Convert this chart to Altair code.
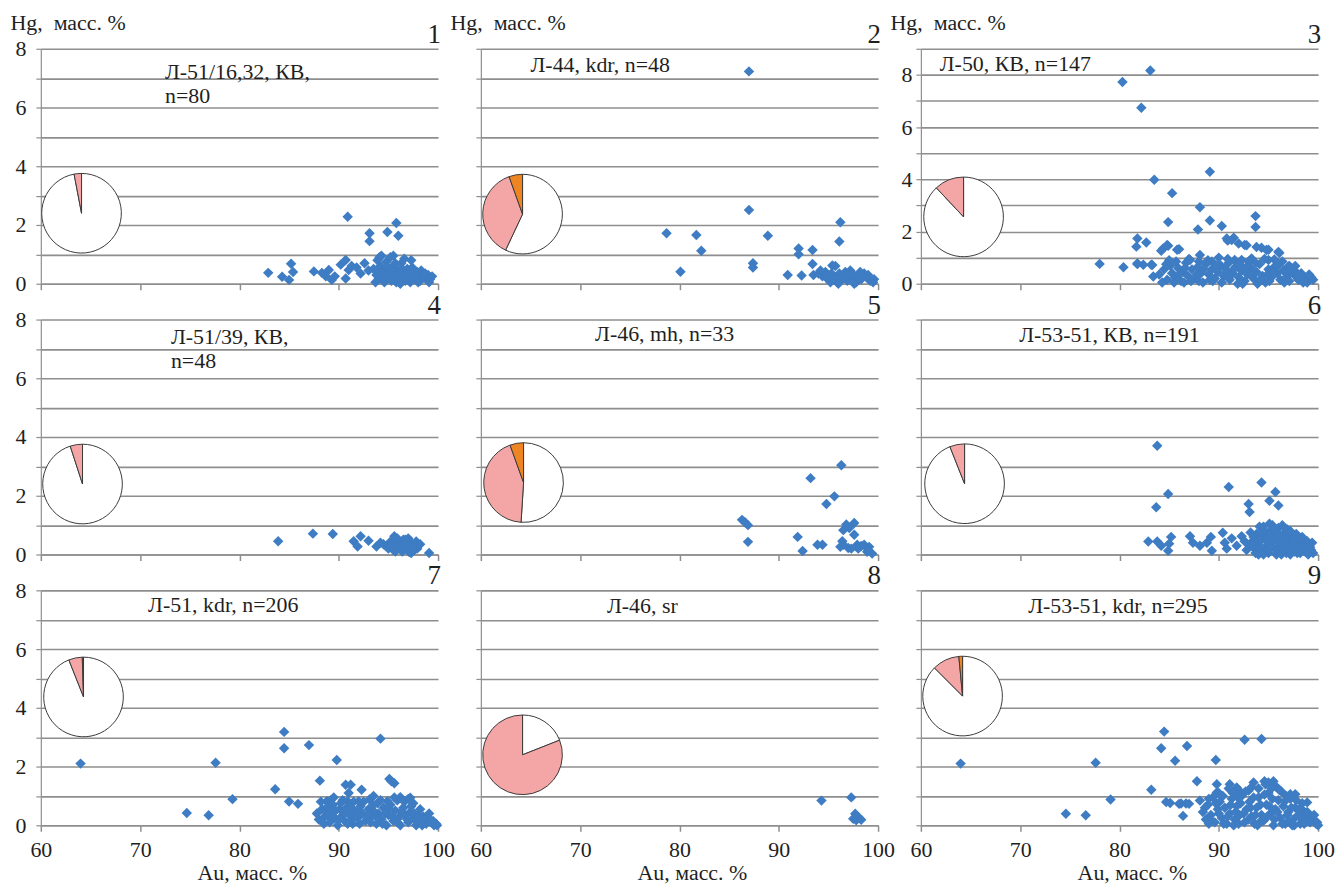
import altair as alt
import pandas as pd

BLUE = "#3E7CC3"
FONT = "Liberation Serif"
INK = "#1f1f1f"
GRID = "#8e8e8e"
PINK = "#F4A6A6"
ORANGE = "#EE8523"

PANEL_NUMBERS = ["1", "2", "3", "4", "5", "6", "7", "8", "9"]
SAMPLE_LABELS = [
    ["Л-51/16,32, КВ,", "n=80"],
    ["Л-44, kdr, n=48"],
    ["Л-50, КВ, n=147"],
    ["Л-51/39, КВ,", "n=48"],
    ["Л-46, mh, n=33"],
    ["Л-53-51, КВ, n=191"],
    ["Л-51, kdr, n=206"],
    ["Л-46, sr"],
    ["Л-53-51, kdr, n=295"],
]

# pie shares (%): white, pink, orange
PIE_WHITE = [97, 57, 88, 95, 51, 94, 94, 19, 87.5]
PIE_PINK = [3, 37.5, 12, 5, 43.5, 6, 5.5, 81, 11]
PIE_ORANGE = [0, 5.5, 0, 0, 5.5, 0, 0.5, 0, 1.5]

# (Au, Hg) points per panel
P1 = [(82.9, 0.37), (84.3, 0.24), (85.2, 0.68), (85.0, 0.13), (85.4, 0.40), (87.5, 0.42), (88.3, 0.37),
      (89.0, 0.47), (89.3, 0.13), (89.6, 0.25), (90.7, 0.81), (90.9, 2.28), (91.0, 0.47), (91.3, 0.60),
      (90.7, 0.18), (92.6, 0.70), (93.1, 1.72), (93.1, 1.45), (93.0, 0.45), (94.1, 0.90), (94.9, 1.76),
      (95.8, 2.07), (96.0, 1.63), (95.5, 0.95), (96.6, 0.85), (97.3, 0.80), (98.8, 0.24), (98.1, 0.24),
      (93.5, 0.50), (93.8, 0.30), (94.0, 0.15), (94.2, 0.60), (94.5, 0.40), (94.6, 0.05), (94.8, 0.75),
      (95.0, 0.30), (95.1, 0.50), (95.3, 0.10), (95.5, 0.60), (95.6, 0.35), (95.8, 0.05), (96.0, 0.45),
      (96.1, 0.20), (96.3, 0.70), (96.5, 0.30), (96.7, 0.10), (96.9, 0.50), (97.0, 0.25), (97.2, 0.05),
      (97.5, 0.35), (97.7, 0.15), (97.9, 0.40), (98.2, 0.10), (98.4, 0.30), (98.6, 0.20), (99.0, 0.30),
      (99.2, 0.15), (94.3, 0.95), (95.2, 0.90), (93.9, 0.80), (91.8, 0.55), (92.2, 0.35), (88.7, 0.25),
      (90.2, 0.65), (93.7, 0.05), (94.1, 0.45), (94.4, 0.20), (94.9, 0.55), (95.2, 0.15), (95.4, 0.40),
      (95.7, 0.70), (95.9, 0.25), (96.2, 0.00), (96.4, 0.50), (96.8, 0.40), (97.1, 0.15), (97.4, 0.55),
      (97.8, 0.25), (98.0, 0.05), (98.3, 0.45), (98.7, 0.35), (99.1, 0.05), (99.4, 0.25)]
P2 = [(87.0, 7.23), (87.0, 2.51), (78.7, 1.72), (81.7, 1.66), (82.2, 1.12), (80.1, 0.41), (87.4, 0.70),
      (87.4, 0.55), (88.9, 1.63), (90.9, 0.30), (92.0, 1.20), (92.0, 1.00), (93.4, 1.15), (93.4, 0.67),
      (92.3, 0.28), (96.2, 2.09), (96.1, 1.44), (95.4, 0.62), (95.7, 0.60), (93.5, 0.30), (94.0, 0.35),
      (94.4, 0.25), (94.7, 0.40), (95.0, 0.15), (95.3, 0.35), (95.6, 0.25), (95.9, 0.05), (96.1, 0.35),
      (96.4, 0.15), (96.7, 0.40), (97.0, 0.30), (97.2, 0.45), (97.5, 0.20), (97.8, 0.05), (98.0, 0.30),
      (98.3, 0.15), (98.6, 0.35), (98.9, 0.20), (99.2, 0.10), (99.5, 0.05), (96.0, 0.00), (97.6, 0.00),
      (99.0, 0.30), (94.2, 0.45), (96.9, 0.10), (95.2, 0.05), (96.5, 0.30), (97.4, 0.35), (98.2, 0.40),
      (99.6, 0.15), (94.8, 0.20)]
P3 = [(80.3, 7.73), (83.1, 8.17), (82.2, 6.74), (83.5, 3.98), (85.3, 3.47), (89.1, 4.29), (88.1, 2.93),
      (89.1, 2.42), (87.9, 2.08), (84.9, 2.36), (90.3, 2.21), (93.7, 2.59), (93.7, 2.17), (78.0, 0.76),
      (80.4, 0.63), (81.8, 1.73), (81.7, 1.42), (82.7, 1.58), (81.8, 0.75), (82.4, 0.73), (83.2, 0.73),
      (84.2, 1.26), (84.9, 1.45), (85.8, 1.30), (90.9, 1.65), (91.5, 1.76), (92.8, 1.47), (94.3, 1.38),
      (95.0, 1.30), (96.1, 1.18), (95.6, 0.93), (97.1, 0.68), (90.8, 1.73), (91.3, 1.67), (92.0, 1.54),
      (92.6, 1.48), (93.8, 1.41), (94.8, 1.29), (96.0, 1.22), (84.4, 1.35), (84.8, 1.48), (86.0, 1.32),
      (87.1, 0.91), (88.1, 1.10), (89.3, 0.85), (91.6, 0.91), (92.3, 0.91), (93.3, 0.97), (95.0, 0.91),
      (97.0, 0.66), (97.7, 0.68), (97.0, 0.34), (99.0, 0.28), (99.5, 0.15), (81.8, 0.78), (83.3, 0.72),
      (83.4, 0.28), (84.0, 0.35), (84.5, 0.55), (84.8, 0.15), (85.1, 0.70), (85.3, 0.40), (85.6, 0.25),
      (85.9, 0.60), (86.2, 0.10), (86.4, 0.45), (86.7, 0.80), (86.9, 0.30), (87.3, 0.55), (87.6, 0.20),
      (87.9, 0.65), (88.2, 0.40), (88.4, 0.05), (88.7, 0.75), (89.0, 0.35), (89.3, 0.55), (89.6, 0.20),
      (89.9, 0.45), (90.2, 0.70), (90.5, 0.30), (90.8, 0.50), (91.1, 0.15), (91.4, 0.40), (91.7, 0.65),
      (92.0, 0.25), (92.3, 0.50), (92.6, 0.10), (92.9, 0.35), (93.2, 0.60), (93.5, 0.20), (93.8, 0.45),
      (94.1, 0.75), (94.4, 0.30), (94.7, 0.05), (95.0, 0.55), (95.3, 0.25), (95.6, 0.65), (95.9, 0.40),
      (96.2, 0.15), (96.5, 0.50), (96.8, 0.25), (97.1, 0.10), (97.4, 0.45), (97.7, 0.30), (98.0, 0.15),
      (98.3, 0.40), (98.6, 0.20), (98.9, 0.05), (99.3, 0.25), (85.0, 0.90), (87.0, 0.95), (88.9, 0.90),
      (90.0, 1.00), (93.0, 0.85), (94.6, 0.95), (96.4, 0.85), (86.5, 0.05), (89.4, 0.10), (91.9, 0.00),
      (95.1, 0.10), (93.9, 0.00), (91.0, 0.80), (84.3, 0.05), (84.7, 0.75), (85.5, 0.05), (85.7, 0.85),
      (86.0, 0.35), (86.6, 0.60), (87.2, 0.10), (87.8, 0.35), (88.0, 0.85), (88.5, 0.55), (89.1, 0.15),
      (89.8, 0.70), (90.3, 0.05), (90.6, 0.60), (91.0, 0.30), (91.5, 0.55), (92.1, 0.75), (92.4, 0.00),
      (92.8, 0.65), (93.3, 0.35), (93.7, 0.80), (94.2, 0.15), (94.9, 0.35), (95.5, 0.45), (96.0, 0.70),
      (96.6, 0.05), (97.3, 0.60), (97.9, 0.40), (98.5, 0.05), (99.1, 0.35), (88.0, 0.10), (90.9, 0.95)]
P4 = [(83.9, 0.45), (87.4, 0.71), (89.4, 0.70), (91.5, 0.45), (92.2, 0.62), (91.9, 0.27), (93.0, 0.47),
      (93.8, 0.27), (94.8, 0.30), (95.3, 0.47), (95.6, 0.62), (96.1, 0.40), (96.5, 0.50), (96.8, 0.25),
      (97.1, 0.08), (97.4, 0.37), (97.8, 0.44), (97.9, 0.20), (99.1, 0.05), (94.5, 0.35), (95.0, 0.20),
      (95.5, 0.15), (95.8, 0.30), (96.2, 0.20), (96.9, 0.45), (97.2, 0.30), (97.6, 0.15), (98.0, 0.30),
      (96.4, 0.10), (94.2, 0.40), (95.9, 0.55), (97.0, 0.55), (98.2, 0.35), (96.6, 0.35), (95.2, 0.38),
      (95.7, 0.10), (96.0, 0.25), (97.3, 0.05), (96.7, 0.50), (95.4, 0.30)]
P5 = [(96.3, 3.04), (93.2, 2.60), (95.6, 1.98), (94.8, 1.72), (86.3, 1.18), (86.6, 1.10), (86.9, 1.00),
      (86.9, 0.43), (91.9, 0.60), (92.4, 0.12), (93.9, 0.33), (94.4, 0.33), (97.6, 1.07), (96.8, 1.02),
      (96.5, 0.83), (97.6, 0.67), (96.2, 0.26), (96.5, 0.33), (97.0, 0.22), (97.9, 0.33), (98.3, 0.29),
      (98.6, 0.33), (99.1, 0.26), (98.9, 0.09), (99.4, 0.03), (98.0, 0.20), (97.3, 0.20), (96.4, 0.45),
      (97.1, 0.90), (99.0, 0.15)]
P6 = [(83.8, 3.70), (84.9, 2.06), (83.7, 1.61), (91.0, 2.30), (94.3, 2.45), (95.7, 2.13), (95.1, 1.83),
      (96.0, 1.67), (93.0, 1.72), (93.1, 1.45), (82.9, 0.44), (83.8, 0.44), (84.2, 0.30), (84.9, 0.13),
      (85.2, 0.60), (85.0, 0.37), (87.1, 0.62), (87.4, 0.40), (88.1, 0.30), (88.8, 0.40), (89.2, 0.60),
      (89.3, 0.13), (90.4, 0.74), (90.6, 0.40), (90.8, 0.20), (91.3, 0.55), (91.8, 0.30), (92.3, 0.62),
      (93.4, 0.45), (93.6, 0.20), (93.8, 0.70), (94.0, 0.35), (94.1, 0.95), (94.3, 0.10), (94.4, 0.55),
      (94.6, 0.80), (94.7, 0.25), (94.9, 0.60), (95.0, 0.05), (95.2, 0.40), (95.3, 0.85), (95.4, 1.00),
      (95.6, 0.20), (95.7, 0.65), (95.9, 0.45), (96.0, 0.90), (96.1, 0.10), (96.3, 0.55), (96.4, 1.00),
      (96.5, 0.30), (96.7, 0.75), (96.8, 0.05), (97.0, 0.45), (97.1, 0.20), (97.3, 0.65), (97.4, 0.35),
      (97.6, 0.10), (97.7, 0.50), (97.9, 0.25), (98.0, 0.60), (98.2, 0.05), (98.3, 0.40), (98.5, 0.20),
      (98.6, 0.50), (98.8, 0.30), (99.0, 0.10), (99.1, 0.35), (99.3, 0.15), (99.5, 0.05), (93.1, 0.30),
      (92.8, 0.15), (94.5, 0.00), (95.8, 0.00), (97.2, 0.00), (93.2, 0.75), (96.9, 0.85), (95.1, 0.70),
      (92.6, 0.45), (93.5, 0.60), (93.7, 0.05), (93.9, 0.50), (94.2, 0.75), (94.2, 0.20), (94.5, 0.95),
      (94.8, 0.45), (94.9, 0.15), (95.1, 1.05), (95.5, 0.50), (95.6, 0.85), (95.9, 0.20), (96.1, 0.70),
      (96.2, 0.35), (96.6, 0.90), (96.6, 0.15), (96.9, 0.60), (97.2, 0.80), (97.5, 0.50), (97.8, 0.70),
      (98.1, 0.30), (98.4, 0.60), (98.7, 0.10), (98.9, 0.45), (99.2, 0.25), (99.4, 0.40), (97.9, 0.05),
      (96.3, 0.00), (94.0, 0.00), (99.0, 0.00)]
P7 = [(64.0, 2.10), (74.7, 0.42), (76.9, 0.34), (77.6, 2.13), (79.3, 0.89), (83.6, 1.23), (84.5, 3.18),
      (84.5, 2.62), (85.0, 0.81), (85.9, 0.73), (87.0, 2.73), (88.1, 1.52), (89.8, 2.22), (94.2, 2.95),
      (95.1, 1.58), (95.6, 1.43), (90.7, 1.38), (91.2, 1.38), (92.3, 1.21), (93.1, 0.88), (90.9, 0.82),
      (92.0, 0.82), (88.8, 0.82), (94.9, 0.82), (96.2, 0.96), (97.2, 0.94), (95.3, 1.50), (93.5, 1.00),
      (91.0, 1.10), (89.5, 0.95), (87.8, 0.40), (88.0, 0.20), (88.3, 0.55), (88.6, 0.30), (88.9, 0.65),
      (89.1, 0.10), (89.3, 0.45), (89.6, 0.25), (89.9, 0.00), (90.1, 0.55), (90.3, 0.30), (90.6, 0.15),
      (90.8, 0.60), (91.1, 0.35), (91.4, 0.05), (91.6, 0.50), (91.9, 0.25), (92.2, 0.65), (92.4, 0.40),
      (92.7, 0.15), (93.0, 0.55), (93.3, 0.30), (93.5, 0.70), (93.8, 0.05), (94.0, 0.40), (94.3, 0.20),
      (94.5, 0.60), (94.8, 0.00), (95.0, 0.35), (95.2, 0.70), (95.5, 0.15), (95.7, 0.50), (96.0, 0.25),
      (96.2, 0.00), (96.5, 0.60), (96.7, 0.35), (97.0, 0.10), (97.2, 0.45), (97.5, 0.25), (97.8, 0.00),
      (98.0, 0.35), (98.3, 0.15), (98.5, 0.30), (98.8, 0.05), (99.0, 0.20), (99.3, 0.10), (99.6, 0.00),
      (99.8, 0.05), (89.2, 0.85), (91.5, 0.80), (95.9, 0.85), (97.5, 0.75), (93.9, 0.75), (98.9, 0.30),
      (90.4, 0.85), (88.2, 0.80), (88.5, 0.05), (88.8, 0.45), (89.0, 0.30), (89.4, 0.70), (89.7, 0.50),
      (90.0, 0.20), (90.2, 0.75), (90.5, 0.45), (90.9, 0.05), (91.2, 0.60), (91.3, 0.20), (91.7, 0.35),
      (92.0, 0.50), (92.1, 0.05), (92.5, 0.80), (92.9, 0.30), (93.2, 0.10), (93.6, 0.45), (93.9, 0.25),
      (94.2, 0.85), (94.4, 0.05), (94.7, 0.40), (95.1, 0.55), (95.4, 0.30), (95.6, 0.95), (95.9, 0.10),
      (96.3, 0.45), (96.6, 0.80), (96.9, 0.20), (97.3, 0.65), (97.6, 0.40), (97.9, 0.15), (98.2, 0.55),
      (98.6, 0.20), (99.1, 0.40), (99.5, 0.15), (99.9, 0.00), (97.0, 0.90), (98.4, 0.00)]
P8 = [(94.3, 0.84), (97.3, 0.95), (97.7, 0.39), (97.5, 0.22), (98.0, 0.28), (98.3, 0.19), (97.8, 0.17)]
P9 = [(64.0, 2.10), (74.6, 0.39), (76.6, 0.34), (77.6, 2.13), (79.1, 0.88), (83.2, 1.21), (84.5, 3.19),
      (84.2, 2.62), (84.7, 0.79), (85.6, 2.20), (86.8, 2.70), (86.2, 0.74), (86.7, 0.74), (86.4, 0.32),
      (87.8, 1.50), (89.7, 2.22), (92.6, 2.91), (94.3, 2.94), (94.6, 1.50), (95.5, 1.50), (85.1, 0.76),
      (86.0, 0.73), (87.0, 0.73), (89.8, 1.40), (91.1, 1.40), (91.8, 1.29), (93.5, 1.46), (95.0, 1.46),
      (95.7, 1.34), (93.0, 1.18), (88.1, 0.84), (89.8, 1.12), (97.2, 1.06), (97.7, 1.06), (98.9, 0.78),
      (88.4, 0.45), (88.7, 0.20), (88.9, 0.70), (89.2, 0.35), (89.4, 0.95), (89.6, 0.10), (89.9, 0.55),
      (90.1, 0.80), (90.3, 0.25), (90.6, 0.60), (90.8, 0.05), (91.1, 0.40), (91.3, 0.90), (91.6, 0.20),
      (91.8, 0.65), (92.1, 0.35), (92.3, 1.00), (92.6, 0.10), (92.8, 0.55), (93.1, 0.80), (93.3, 0.30),
      (93.6, 0.05), (93.8, 0.60), (94.0, 0.95), (94.3, 0.35), (94.5, 0.15), (94.8, 0.70), (95.0, 1.10),
      (95.2, 0.40), (95.5, 0.00), (95.7, 0.55), (96.0, 0.85), (96.2, 0.25), (96.5, 0.65), (96.7, 0.05),
      (97.0, 0.45), (97.2, 0.90), (97.5, 0.20), (97.7, 0.60), (98.0, 0.35), (98.2, 0.05), (98.5, 0.50),
      (98.7, 0.25), (99.0, 0.40), (99.2, 0.10), (99.5, 0.20), (99.8, 0.05), (100.0, 0.00), (90.0, 1.10),
      (92.0, 1.20), (94.0, 1.25), (96.3, 1.15), (98.4, 0.75), (89.0, 0.05), (91.5, 0.00), (93.9, 0.00),
      (97.4, 0.00), (95.8, 1.30), (91.0, 1.25), (94.7, 1.40), (96.8, 1.00), (99.4, 0.30), (88.6, 0.60),
      (89.0, 0.90), (89.3, 0.15), (89.7, 0.75), (90.0, 0.40), (90.4, 1.00), (90.5, 0.05), (90.9, 0.30),
      (91.2, 0.70), (91.4, 1.10), (91.7, 0.45), (92.0, 0.05), (92.2, 0.75), (92.5, 0.40), (92.7, 1.15),
      (93.0, 0.20), (93.2, 0.60), (93.5, 0.95), (93.7, 0.35), (94.1, 0.10), (94.2, 0.70), (94.6, 1.05),
      (94.9, 0.30), (95.1, 0.65), (95.4, 0.90), (95.6, 0.20), (95.9, 0.45), (96.1, 1.20), (96.4, 0.05),
      (96.6, 0.80), (96.9, 0.35), (97.3, 0.60), (97.6, 0.00), (97.8, 0.85), (98.1, 0.55), (98.4, 0.20),
      (98.6, 0.05), (98.9, 0.45), (99.3, 0.15), (99.6, 0.35), (99.9, 0.10), (95.3, 1.25), (93.3, 1.30),
      (97.0, 0.15), (91.9, 0.95)]
POINTS = [P1, P2, P3, P4, P5, P6, P7, P8, P9]

# layout (placement of the insets and labels, in data units)
Y_MAX = [8, 8, 9, 8, 8, 8, 8, 8, 8]
PIE_CENTER = [(64.1, 2.40), (64.2, 2.37), (64.3, 2.56), (64.2, 2.40), (64.3, 2.45),
              (64.4, 2.41), (64.3, 4.37), (64.2, 2.40), (64.2, 4.40)]
LABEL_POS = [
    [(72.5, 6.98), (72.5, 6.14)],
    [(65.0, 7.20)],
    [(61.9, 8.14)],
    [(73.1, 7.18), (73.1, 6.36)],
    [(71.5, 7.27)],
    [(69.9, 7.22)],
    [(70.8, 7.26)],
    [(72.7, 7.23)],
    [(70.8, 7.23)],
]

W, H = 399, 236
FS = 22


def panel(idx):
    row, col = divmod(idx, 3)
    ymax = Y_MAX[idx]
    xs = alt.Scale(domain=[60, 100], nice=False, zero=False)
    ys = alt.Scale(domain=[0, ymax], nice=False, zero=True)

    xkw = dict(values=[60, 70, 80, 90, 100], grid=False, ticks=True, tickSize=6,
               labels=(row == 2), labelPadding=8, domainColor=GRID, tickColor=GRID,
               domainWidth=1.5, tickWidth=1.5, labelFlush=False)
    if row == 2:
        xaxis = alt.Axis(titleX=212, titleY=54, titleAlign="center",
                         titleBaseline="alphabetic", **xkw)
        xtitle = "Au, масс. %"
    else:
        xaxis = alt.Axis(**xkw)
        xtitle = None

    show_y = (col == 0) or (idx == 2)
    ykw = dict(values=list(range(ymax + 1)), grid=True, gridColor=GRID, gridWidth=1.6,
               tickSize=5, tickColor=GRID, tickWidth=1.2, domainColor=GRID, domainWidth=1.2,
               labels=show_y, labelExpr="datum.value % 2 === 0 ? datum.label : ''",
               labelPadding=(10 if col == 0 else 4))
    if row == 0:
        yaxis = alt.Axis(titleAngle=0, titleAlign="left", titleBaseline="alphabetic",
                         titleX=-31, titleY=-19, **ykw)
        ytitle = "Hg,\u00a0\u00a0масс. %"
    else:
        yaxis = alt.Axis(**ykw)
        ytitle = None

    X = alt.X("au:Q", scale=xs, axis=xaxis, title=xtitle)
    Y = alt.Y("hg:Q", scale=ys, axis=yaxis, title=ytitle)

    pts_df = pd.DataFrame(POINTS[idx], columns=["au", "hg"])
    points = alt.Chart(pts_df).mark_point(
        shape="diamond", filled=True, size=110, color=BLUE, opacity=1, strokeWidth=0
    ).encode(x=X, y=Y)

    cx, cy = PIE_CENTER[idx]
    shares = [PIE_WHITE[idx], PIE_PINK[idx], PIE_ORANGE[idx]]
    fills = ["#ffffff", PINK, ORANGE]
    pie_rows = [dict(au=cx, hg=cy, share=s, k=k, fill=f)
                for k, (s, f) in enumerate(zip(shares, fills)) if s > 0]
    pie = alt.Chart(pd.DataFrame(pie_rows)).mark_arc(
        outerRadius=40, stroke="#3a3a3a", strokeWidth=1
    ).encode(
        x=X, y=Y,
        theta=alt.Theta("share:Q", stack=True),
        order=alt.Order("k:Q", sort="ascending"),
        color=alt.Color("fill:N", scale=None),
    )

    lab_rows = [dict(au=p[0], hg=p[1], txt=t) for p, t in zip(LABEL_POS[idx], SAMPLE_LABELS[idx])]
    labels = alt.Chart(pd.DataFrame(lab_rows)).mark_text(
        align="left", baseline="alphabetic", font=FONT, fontSize=FS, color=INK
    ).encode(x=X, y=Y, text="txt:N")

    num = alt.Chart(pd.DataFrame({"txt": [PANEL_NUMBERS[idx]]})).mark_text(
        align="right", baseline="alphabetic", font=FONT, fontSize=27, color=INK
    ).encode(x=alt.value(W + 3), y=alt.value(-6), text="txt:N")

    return alt.layer(points, pie, labels, num).properties(width=W, height=H)


chart = alt.concat(
    *[panel(i) for i in range(9)],
    columns=3,
    spacing=alt.RowColnumber(row=36, column=43),
    bounds="flush",
).properties(
    padding={"left": 10, "top": 10, "right": 5, "bottom": 2},
    background="white",
).configure_view(strokeWidth=0).configure_axis(
    labelFont=FONT, labelFontSize=FS, labelColor=INK,
    titleFont=FONT, titleFontSize=FS, titleColor=INK, titleFontWeight="normal",
)

chart.save("out.html", embed_options={"renderer": "svg", "actions": False})
